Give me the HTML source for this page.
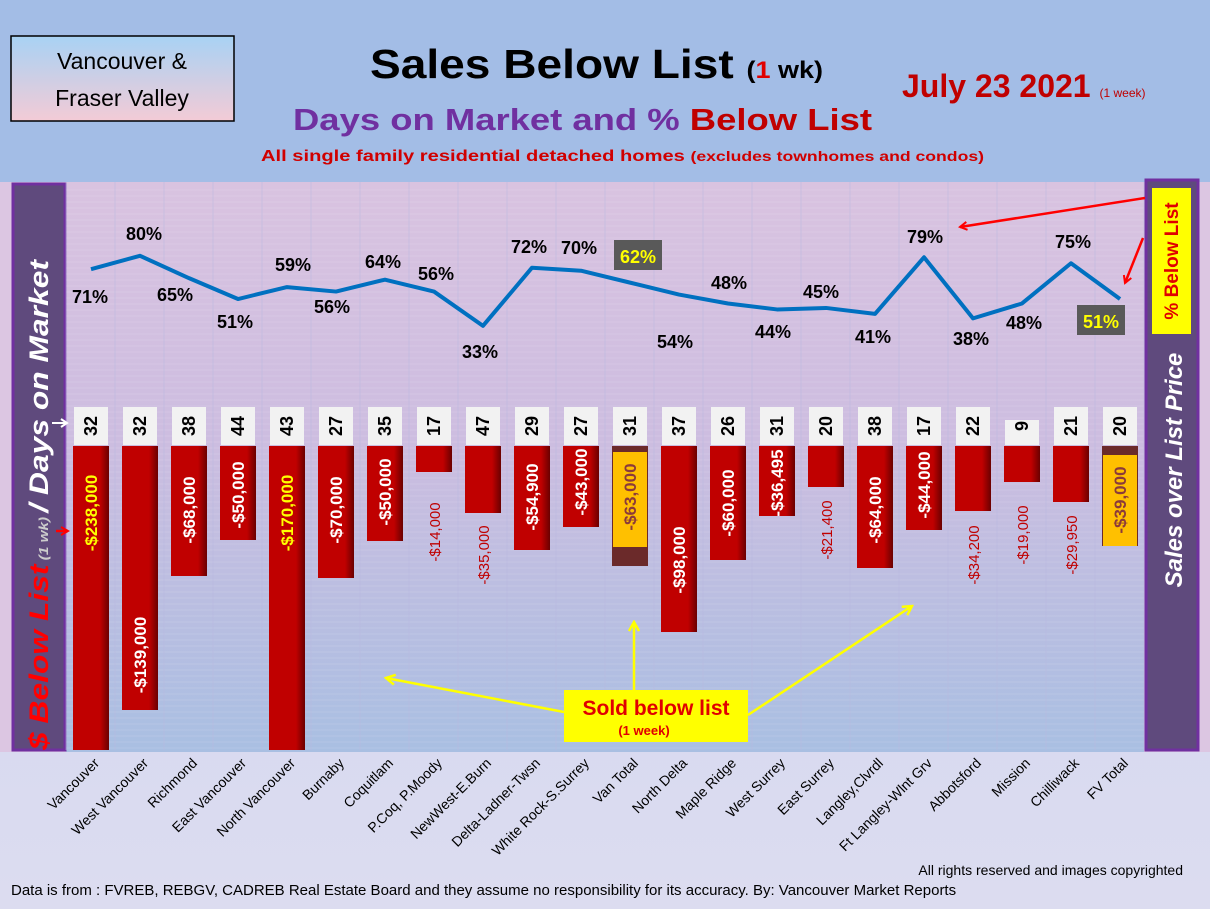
<!DOCTYPE html><html><head><meta charset="utf-8"><style>body{margin:0;width:1210px;height:909px;overflow:hidden;font-family:"Liberation Sans",sans-serif}</style></head><body>
<svg width="1210" height="909" xmlns="http://www.w3.org/2000/svg" font-family="Liberation Sans, DejaVu Sans, sans-serif">
<defs>
<linearGradient id="bg" x1="0" y1="0" x2="0" y2="1"><stop offset="0" stop-color="#d9c3e0"/><stop offset="0.45" stop-color="#cdbde0"/><stop offset="1" stop-color="#a9bfe2"/></linearGradient>
<linearGradient id="bot" x1="0" y1="0" x2="0" y2="1"><stop offset="0" stop-color="#c9d3ee"/><stop offset="1" stop-color="#dcdcf0"/></linearGradient>
<linearGradient id="box" x1="0" y1="0" x2="0" y2="1"><stop offset="0" stop-color="#a8d2f4"/><stop offset="1" stop-color="#f3cbd6"/></linearGradient>
<linearGradient id="bar" x1="0" y1="0" x2="1" y2="0"><stop offset="0" stop-color="#c00000"/><stop offset="0.75" stop-color="#c00000"/><stop offset="1" stop-color="#6a0000"/></linearGradient>
<marker id="ar" markerWidth="10" markerHeight="10" refX="8" refY="5" orient="auto" markerUnits="userSpaceOnUse"><path d="M1,1 L8,5 L1,9" fill="none" stroke="red" stroke-width="2"/></marker>
<marker id="ay" markerWidth="12" markerHeight="12" refX="10" refY="6" orient="auto" markerUnits="userSpaceOnUse"><path d="M1,1 L10,6 L1,11" fill="none" stroke="#ffff00" stroke-width="2.5"/></marker>
</defs>
<rect width="1210" height="909" fill="url(#bot)"/>
<rect width="1210" height="182" fill="#a3bde6"/>
<rect x="0" y="182" width="1210" height="570" fill="#dcc6e2"/>
<rect x="66" y="182" width="1078" height="570" fill="url(#bg)"/>
<!-- header -->
<rect x="11" y="36" width="223" height="85" fill="url(#box)" stroke="#000" stroke-width="1.5"/>
<text x="122" y="69" font-size="23" text-anchor="middle">Vancouver &amp;</text>
<text x="122" y="106" font-size="23" text-anchor="middle">Fraser Valley</text>
<text x="370" y="78" font-size="41" font-weight="bold" textLength="453" lengthAdjust="spacingAndGlyphs">Sales Below List <tspan font-size="24">(<tspan fill="#e00000">1</tspan> wk)</tspan></text>
<text x="293" y="130" font-size="31" font-weight="bold" fill="#7030a0" textLength="579" lengthAdjust="spacingAndGlyphs">Days on Market and % <tspan fill="#c00000">Below List</tspan></text>
<text x="261" y="161" font-size="16" font-weight="bold" fill="#d00000" textLength="723" lengthAdjust="spacingAndGlyphs">All single family residential detached homes <tspan font-size="14">(excludes townhomes and condos)</tspan></text>
<text x="902" y="97" font-size="32" font-weight="bold" fill="#c00000">July 23  2021 <tspan font-size="12" font-weight="normal">(1 week)</tspan></text>
<!-- side panels -->
<rect x="13" y="184" width="52" height="566" fill="#5f4a7d" stroke="#7030a0" stroke-width="3"/>
<text transform="translate(48,750) rotate(-90)" font-size="27" font-weight="bold" font-style="italic" fill="#fff" textLength="490" lengthAdjust="spacingAndGlyphs"><tspan fill="#ff0000">$ Below List</tspan><tspan font-size="13" fill="#ccc"> (1 wk) </tspan>/ Days on Market</text>
<rect x="1146" y="180" width="52" height="570" fill="#5f4a7d" stroke="#7030a0" stroke-width="3"/>
<rect x="1152" y="188" width="39" height="146" fill="#ffff00"/>
<text transform="translate(1178,261) rotate(-90)" font-size="19" font-weight="bold" fill="#e00000" text-anchor="middle">% Below List</text>
<text transform="translate(1182,470) rotate(-90)" font-size="24" font-weight="bold" font-style="italic" fill="#fff" text-anchor="middle">Sales over List Price</text>
<g id="c"></g>
<g font-size="14" fill="#000" id="xl"></g>
<text x="1183" y="875" font-size="14" text-anchor="end">All rights reserved and  images copyrighted</text>
<text x="11" y="895" font-size="15">Data is from : FVREB, REBGV, CADREB Real Estate Board and they assume no responsibility for its accuracy. By: Vancouver Market Reports</text>
<!-- annotations -->
<rect x="564" y="690" width="184" height="52" fill="#ffff00"/>
<text x="656" y="715" font-size="21" font-weight="bold" fill="#e00000" text-anchor="middle">Sold below list</text>
<text x="644" y="735" font-size="13" font-weight="bold" fill="#e00000" text-anchor="middle">(1 week)</text>
<g stroke="#ffff00" stroke-width="2.5" fill="none">
<line x1="564" y1="712" x2="386" y2="678" marker-end="url(#ay)"/>
<line x1="634" y1="690" x2="634" y2="622" marker-end="url(#ay)"/>
<line x1="748" y1="715" x2="912" y2="606" marker-end="url(#ay)"/>
</g>
<g stroke="red" stroke-width="2.5" fill="none">
<line x1="1145" y1="198" x2="960" y2="227" marker-end="url(#ar)"/>
<line x1="1143" y1="238" x2="1125" y2="283" marker-end="url(#ar)"/>
<line x1="56" y1="531" x2="68" y2="531" marker-end="url(#ar)"/>
</g>
<line x1="52" y1="423" x2="66" y2="423" stroke="#fff" stroke-width="2"/>
<path d="M61,419 L67,423 L61,427" stroke="#fff" stroke-width="2" fill="none"/>
</svg>
<script>
const names=["Vancouver","West Vancouver","Richmond","East Vancouver","North Vancouver","Burnaby","Coquitlam","P.Coq, P.Moody","NewWest-E.Burn","Delta-Ladner-Twsn","White Rock-S.Surrey","Van Total","North Delta","Maple Ridge","West Surrey","East Surrey","Langley,Clvrdl","Ft Langley-Wlnt Grv","Abbotsford","Mission","Chilliwack","FV Total"];
const days=[32,32,38,44,43,27,35,17,47,29,27,31,37,26,31,20,38,17,22,9,21,20];
const bot=[750,710,576,540,750,578,541,472,513,550,527,566,632,560,516,487,568,530,511,482,502,546];
const lab=["-$238,000","-$139,000","-$68,000","-$50,000","-$170,000","-$70,000","-$50,000","-$14,000","-$35,000","-$54,900","-$43,000","-$63,000","-$98,000","-$60,000","-$36,495","-$21,400","-$64,000","-$44,000","-$34,200","-$19,000","-$29,950","-$39,000"];
const ly=[513,655,510,495,513,510,492,532,555,497,482,497,560,503,483,530,510,485,555,535,545,500];
const lt=["y","w","w","w","y","w","w","r","r","w","w","o","w","w","w","r","w","w","r","r","r","o"];
const pct=[71,80,65,51,59,56,64,56,33,72,70,62,54,48,44,45,41,79,38,48,75,51];
const pl=[[90,297],[144,234],[175,295],[235,322],[293,265],[332,307],[383,262],[436,274],[480,352],[529,247],[579,248],[638,257],[675,342],[729,283],[773,332],[821,292],[873,337],[925,237],[971,339],[1024,323],[1073,242],[1101,322]];
let s="";
for(let y=190;y<750;y+=6)s+=`<line x1="66" y1="${y}" x2="1144" y2="${y}" stroke="#fff" stroke-opacity="0.12"/>`;
for(let i=0;i<=22;i++){const x=66+i*49;s+=`<line x1="${x}" y1="182" x2="${x}" y2="750" stroke="#b8b8e0" stroke-opacity="0.5"/>`;}
const X=i=>91+i*49;
for(let i=0;i<22;i++){const x=X(i);
 if(lt[i]=="o"){s+=`<rect x="${x-18}" y="446" width="36" height="${bot[i]-446}" fill="#6b2a2a"/><rect x="${x-17}" y="${i==11?452:455}" width="34" height="${i==11?95:91}" fill="#ffc000"/>`;}
 else s+=`<rect x="${x-18}" y="446" width="36" height="${bot[i]-446}" fill="url(#bar)"/>`;
 const top=days[i]==9?420:407;
 s+=`<rect x="${x-17}" y="${top}" width="34" height="${445-top}" fill="#f2f2f2"/>`;
 s+=`<text transform="translate(${x+6},426) rotate(-90)" font-size="18" font-weight="bold" text-anchor="middle">${days[i]}</text>`;
 const col={y:"#ffff00",w:"#fff",r:"#c00000",o:"#8b3a3a"}[lt[i]];
 const fs=lt[i]=="r"?15:17;
 s+=`<text transform="translate(${x+6},${ly[i]}) rotate(-90)" font-size="${fs}" font-weight="${lt[i]=="r"?"normal":"bold"}" fill="${col}" text-anchor="middle">${lab[i]}</text>`;
}
let p="";for(let i=0;i<22;i++)p+=(i?"L":"M")+X(i)+","+(375-1.49*pct[i]);
s+=`<path d="${p}" stroke="#0070c0" stroke-width="4" fill="none" stroke-linejoin="round"/>`;
for(let i=0;i<22;i++){const [x,y]=pl[i];
 if(i==11||i==21){s+=`<rect x="${x-24}" y="${y-17}" width="48" height="30" fill="#595959"/><text x="${x}" y="${y+6}" font-size="18" font-weight="bold" fill="#ffff00" text-anchor="middle">${pct[i]}%</text>`;}
 else s+=`<text x="${x}" y="${y+6}" font-size="18" font-weight="bold" text-anchor="middle">${pct[i]}%</text>`;
}
document.getElementById("c").innerHTML=s;
let t="";for(let i=0;i<22;i++)t+=`<text transform="translate(${X(i)+9},764) rotate(-45)" text-anchor="end">${names[i]}</text>`;
document.getElementById("xl").innerHTML=t;
</script>
</body></html>
